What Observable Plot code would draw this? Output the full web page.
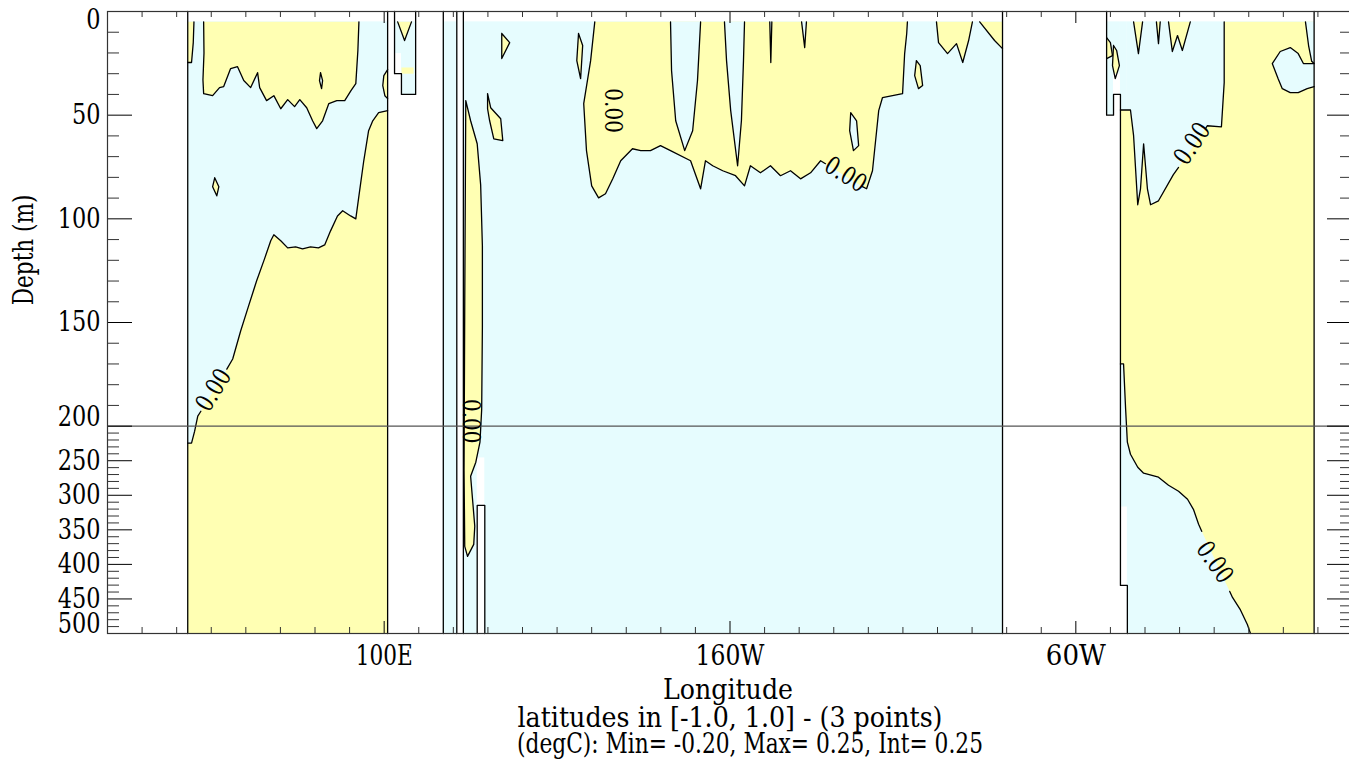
<!DOCTYPE html>
<html><head><meta charset="utf-8">
<script src="https://cdn.jsdelivr.net/npm/d3@7"></script>
<script src="https://cdn.jsdelivr.net/npm/@observablehq/plot@0.6"></script>
<style>
body{margin:0;overflow:hidden;background:#fff}
#wrap{position:relative;width:1349px;height:762px;overflow:hidden}
#wrap svg{max-width:none!important}
#wrap svg text{font-family:"DejaVu Serif",serif}
</style></head><body><div id="wrap"></div>
<script>
// ---------- axis data ----------
const xMajorLon = [100, 200, 300];
const xMajorLabels = ["100E", "160W", "60W"];
const xLabelWidths = [57, 69, 60];
const xMinorLon = d3.range(30, 380, 10).filter(d => !xMajorLon.includes(d));
const yMajorDepth = [0, 50, 100, 150, 200, 250, 300, 350, 400, 450, 500];
const yMinorDepth = d3.range(10, 500, 10).filter(d => !yMajorDepth.includes(d));
const yPlainLabels = [50, 100, 150, 250, 300, 350, 400, 450];
const yTopLabels = [0];
const yRaisedLabels = [200, 500];
const depthBreak = 200;      // depth where the vertical scale changes
const lowerCompression = 3;  // lower panel is 3x compressed

// ---------- ocean columns [west lon, east lon, bottom depth] ----------
const topDepth = 5;
const oceanCols = [
  [43.2, 101.0, 500], [103.0, 105.0, 30], [105.0, 109.1, 40], [117.1, 121.0, 500],
  [122.9, 278.8, 500], [308.9, 310.9, 50], [310.9, 312.9, 40], [312.9, 314.9, 430.4], [314.9, 368.9, 500]
];
// missing cells [west, east, top, bottom]
const blanks = [
  [103.0, 105.0, 20.3, 30], [310.9, 312.9, 30.2, 40], [312.9, 314.9, 317, 430.4],
  [126.9, 129.1, 246, 314.5], [126.9, 129.1, 314.5, 500]
];
// coast / bottom outlines
const walls = [
  [[43.2, 0], [43.2, 500]],
  [[101.0, 0], [101.0, 500]],
  [[103.0, 0], [103.0, 30], [105.0, 30], [105.0, 40], [109.1, 40], [109.1, 0]],
  [[117.1, 0], [117.1, 500]],
  [[121.0, 0], [121.0, 500]],
  [[122.9, 0], [122.9, 500]],
  [[126.9, 500], [126.9, 314.5], [129.1, 314.5], [129.1, 500]],
  [[278.8, 0], [278.8, 500]],
  [[308.9, 0], [308.9, 50], [310.9, 50], [310.9, 40], [312.9, 40], [312.9, 430.4], [314.9, 430.4], [314.9, 500]],
  [[368.9, 0], [368.9, 500]]
];

// ---------- zero contours [lon, depth] ----------
// Indian Ocean
const ioTopLine = [[47.8,5],[47.9,20],[47.6,33],[47.8,39.6],[50.4,40.6],[52.4,36.7],[53.6,36.2],[55.6,27.5],[57.6,26.6],[59.4,33.3],[61.4,36.7],[63.4,29.5],[64.0,36.7],[66.0,43.0],[68.1,40.6],[70.1,46.9],[72.1,42.5],[74.1,45.9],[75.6,42.5],[77.6,46.4],[79.3,52.7],[80.5,56.5],[82.2,52.7],[84.0,44.4],[86.3,43.0],[88.6,43.0],[90.4,38.2],[91.8,34.8],[92.4,18.8],[92.7,5]];
const ioSliver = [[45.0,5],[44.8,15],[44.3,24.6],[43.2,24.6]];
const ioSliverClose = [[43.2,5]];
const ioLowA = [[43.2,224.6],[44.3,224.6],[45.2,207.2],[46.1,195.2],[47.0,192.8]];
const ioLowB = [[54.5,172.5],[56.2,167.6],[58.5,154.1],[60.8,142.0],[63.1,130.0],[65.4,119.3],[67.2,110.6],[68.1,107.7],[70.1,110.6],[72.1,114.0],[74.4,113.5],[76.4,114.5],[78.7,113.5],[81.0,114.0],[82.8,112.6],[84.5,105.8],[86.5,98.6],[88.0,96.1],[90.3,98.6],[91.8,100.0],[92.7,88.9],[94.1,72.0],[95.5,57.5],[96.7,52.7],[98.4,48.8],[101.0,47.8]];
const ioLowClose = [[101.0,500],[43.2,500]];
const ioDiamond = [[51.0,80.2],[52.2,84.5],[51.6,88.9],[50.4,84.5],[51.0,80.2]];
const ioOval = [[81.6,29.5],[82.2,33.3],[81.9,37.2],[81.3,33.3],[81.6,29.5]];
const ioBulge = [[101,28],[99.9,30.9],[99.6,35.7],[100.2,40.6],[101,42]];
const boxV = [[103.9,5],[105.9,14.0],[107.9,5]];
const boxStripe = [[105,27],[108.5,27],[108.5,30],[105,30]];
// Pacific
const pacSliver = [[123.6,43],[125.0,52.7],[126.9,63.8],[127.9,83.6],[128.4,113],[128.4,152.2],[128.2,191.8],[127.7,223.2],[126.5,252.2],[125.0,272.5],[125.6,308.7],[126.2,344.9],[125.9,371],[124.1,388.4],[123.3,373.9],[123.1,265],[123.3,140],[123.6,43]];
const pacTopA = [[160.9,5],[159.7,23.7],[157.7,44.4],[158.5,67.1],[160.0,84.1],[162.0,89.9],[164.0,87.9],[166.1,80.7],[168.4,72.0],[171.8,66.2],[174.2,67.1],[177.0,67.1],[179.9,64.7],[182.8,67.1],[188.6,72.0],[191.5,85.5],[192.9,72.0],[195.0,74.4],[197.9,76.8],[201.6,79.2],[204.2,84.1],[205.9,74.4],[208.8,77.8],[211.7,74.4],[214.6,79.2],[217.5,76.8],[220.4,80.7],[223.3,77.8],[226.2,72.0],[227.6,73.4]];
const pacTopB = [[238.3,84.5],[239.5,85.5],[241.2,76.8],[242.4,57.5],[243.0,47.8],[244.1,41.5],[249.9,39.6],[250.5,20.3],[251.1,10.6],[251.3,5]];
const pacLoop = [[234.9,48.8],[236.6,52.7],[237.2,64.7],[235.7,67.1],[234.6,57.5],[234.9,48.8]];
const pacC1 = [[182.8,5],[183.1,28.5],[184.3,52.7],[186.9,67.1],[189.2,57.5],[190.6,33.3],[191.5,5]];
const pacC2 = [[198.4,5],[199.0,23.7],[200.2,47.8],[202.2,74.4],[203.3,52.7],[203.9,23.7],[204.2,5]];
const pacS1 = [[211.5,5],[211.8,24.6],[212.1,5]];
const pacS2 = [[220.7,5],[221.6,17.4],[222.1,5]];
const pacYB1 = [[253.9,23.7],[255.0,26.1],[255.7,35.7],[254.5,37.2],[253.4,30.9],[253.9,23.7]];
const pacYTR1 = [[259.7,5],[260.3,15.0],[262.9,20.3],[265.5,15.5],[267.3,24.6],[269.0,14.0],[270.1,5]];
const pacYTR2 = [[272.2,5],[276.5,14.0],[278.8,17.9]];
const pacYTR2Close = [[278.8,5]];
const pacTri = [[134.0,10.6],[136.3,15.0],[134.0,22.7],[134.0,10.6]];
const pacBlob = [[129.9,39.6],[130.8,46.4],[133.7,51.7],[134.3,62.3],[131.7,61.4],[130.5,52.7],[129.9,46.9],[129.9,39.6]];
const pacSliv2 = [[156.2,10.6],[157.4,16.4],[156.8,32.4],[155.7,23.7],[156.2,10.6]];
// Atlantic
const atlYellowA = [[312.9,47.5],[315.8,47.5],[316.7,59.9],[317.9,93.2],[318.7,85.5],[319.6,63.8],[320.7,85.5],[321.6,93.2],[323.9,91.3],[328.2,78.7],[329.7,75.2]];
const atlYellowB = [[337.5,56.5],[338.0,55.1],[342.1,55.6],[342.9,34.3],[342.9,5]];
const atlYellowClose = [[368.9,5],[368.9,500],[314.9,500],[314.9,430.4],[312.9,430.4]];
const atlWedgeA = [[312.9,170],[313.8,170],[314.4,191.8],[314.9,223.2],[315.8,240.6],[317.9,259.4],[319.6,268.1],[323.9,273.9],[326.8,285.5],[329.7,294.2],[332.3,305.8],[334.0,320.3],[335.5,342],[336.4,352.2]];
const atlWedgeB = [[344.5,439.1],[345.3,447.8],[347.6,465.9],[349.6,486.9],[350.5,500]];
const atlWedgeClose = [[314.9,500],[314.9,430.4],[312.9,430.4]];
const atlV1 = [[316.7,5],[318.1,20.3],[319.3,5]];
const atlV2 = [[323.3,5],[323.9,15.5],[324.4,5]];
const atlW = [[326.8,5],[327.9,19.3],[329.4,11.6],[330.8,18.8],[333.1,5]];
const atlBlob1 = [[308.9,12.6],[310.0,15.0],[310.6,21.3],[308.9,22.7]];
const atlBlob2 = [[310.9,16.4],[311.8,18.8],[312.6,26.1],[311.4,32.4],[310.6,26.1],[310.9,16.4]];
const atlTR = [[366.4,5],[367.3,16.4],[368.2,24],[368.9,25.1],[365.8,25.1],[364.3,20.3],[362.0,17.4],[359.1,19.3],[356.8,25.1],[358.5,32.4],[359.7,37.2],[362.0,39.1],[364.3,39.1],[366.9,37.2],[368.9,36.2]];
const atlTRClose = [[368.9,5]];

// contour labels
const labelLon = [50.7, 166.1, 233.4, 125.0, 333.7, 340.1];
const labelDepth = [182.6, 47.8, 78.7, 197.6, 63.8, 397.1];
const labelAngle = [-58, 90, 32, 90, -56, 55];
const labelText = ["0.00", "0.00", "0.00", "0.00", "0.00", "0.00"];

const captionLines = ["Longitude", "latitudes in [-1.0, 1.0] - (3 points)", "(degC): Min= -0.20, Max= 0.25, Int= 0.25"];
const captionWidths = [130, 425, 466];

// ---------- build ----------
const YELLOW = "#ffffb3", CYAN = "#e6fcfe", INK = "#000";
const rows = shapes => shapes.flatMap((pts, k) => pts.map(([lon, dep]) => ({lon, dep, k})));

const yellowFills = [
  ioTopLine, ioSliver.concat(ioSliverClose), ioLowA.concat(ioLowB, ioLowClose), ioDiamond, ioBulge, boxV, boxStripe,
  pacSliver, pacTopA.concat(pacTopB), pacYB1, pacYTR1, pacYTR2.concat(pacYTR2Close), pacTri, pacBlob, pacSliv2,
  atlYellowA.concat(atlYellowB, atlYellowClose), atlV1, atlV2, atlW, atlBlob1, atlBlob2
];
const cyanFills = [ioOval, pacC1, pacC2, pacS1, pacS2, pacLoop, atlWedgeA.concat(atlWedgeB, atlWedgeClose), atlTR.concat(atlTRClose)];
const contourLines = [ioTopLine, ioSliver, ioLowA, ioLowB, ioDiamond, ioOval, ioBulge, boxV, pacSliver, pacTopA, pacTopB, pacLoop,
  pacC1, pacC2, pacS1, pacS2, pacYB1, pacYTR1, pacYTR2, pacTri, pacBlob, pacSliv2,
  atlYellowA, atlYellowB, atlV1, atlV2, atlW, atlBlob1, atlBlob2, atlWedgeA, atlWedgeB, atlTR];

const X0 = 107, X1 = 1352, Y0 = 11, Y1 = 633, W = 1362, H = 762;
const fw = X1 - X0, fh = Y1 - Y0;
const squeeze = d => d <= depthBreak ? d : depthBreak + (d - depthBreak) / lowerCompression;
const FONT = "DejaVu Serif";
const T = {fill: INK, fontFamily: FONT};

const chart = Plot.plot({
  width: W, height: H,
  marginLeft: X0, marginRight: W - X1, marginTop: Y0, marginBottom: H - Y1,
  x: {domain: [20, 380], axis: null},
  y: {transform: squeeze, reverse: true, axis: null},
  style: {fontFamily: FONT, fontSize: "28px", background: "white", overflow: "visible", maxWidth: "none"},
  marks: [
    Plot.rect(oceanCols, {x1: d => d[0], x2: d => d[1], y1: () => topDepth, y2: d => d[2], fill: CYAN}),
    Plot.line(rows(yellowFills), {x: "lon", y: "dep", z: "k", fill: YELLOW, stroke: "none"}),
    Plot.line(rows(cyanFills), {x: "lon", y: "dep", z: "k", fill: CYAN, stroke: "none"}),
    Plot.rect(blanks, {x1: d => d[0], x2: d => d[1], y1: d => d[2], y2: d => d[3], fill: "white"}),
    Plot.line(rows(contourLines), {x: "lon", y: "dep", z: "k", stroke: INK, strokeWidth: 1.3}),
    Plot.line(rows(walls), {x: "lon", y: "dep", z: "k", stroke: INK, strokeWidth: 1.3}),
    Plot.ruleY([depthBreak], {stroke: "#555", strokeWidth: 1.2}),
    Plot.text(labelText, {x: (d, i) => labelLon[i], y: (d, i) => labelDepth[i], rotate: (d, i) => labelAngle[i], text: d => d, fontSize: 25, ...T}),
    // ticks (drawn inward)
    Plot.ruleX(xMinorLon, {x: d => d, insetTop: fh - 6, stroke: "#333"}),
    Plot.ruleX(xMajorLon, {x: d => d, insetTop: fh - 12, stroke: "#000"}),
    Plot.ruleX(xMinorLon, {x: d => d, insetBottom: fh - 6, stroke: "#333"}),
    Plot.ruleX(xMajorLon, {x: d => d, insetBottom: fh - 12, stroke: "#000"}),
    Plot.ruleY(yMinorDepth, {y: d => d, insetRight: fw - 12, stroke: "#333"}),
    Plot.ruleY(yMajorDepth, {y: d => d, insetRight: fw - 25, stroke: "#000"}),
    Plot.ruleY(yMinorDepth, {y: d => d, insetLeft: fw - 12, stroke: "#333"}),
    Plot.ruleY(yMajorDepth, {y: d => d, insetLeft: fw - 25, stroke: "#000"}),
    Plot.frame({stroke: "#333", strokeWidth: 1.2}),
    // tick labels
    Plot.text(xMajorLon, {x: d => d, frameAnchor: "bottom", dy: 31, text: (d, i) => xMajorLabels[i], fontSize: 28, ...T}),
    Plot.text(yPlainLabels, {y: d => d, frameAnchor: "left", dx: -7, textAnchor: "end", text: d => String(d), fontSize: 28, ...T}),
    Plot.text(yTopLabels, {y: d => d, frameAnchor: "left", dx: -7, dy: 9, textAnchor: "end", text: d => String(d), fontSize: 28, ...T}),
    Plot.text(yRaisedLabels, {y: d => d, frameAnchor: "left", dx: -7, dy: -9, textAnchor: "end", text: d => String(d), fontSize: 28, ...T}),
    Plot.text(["Depth (m)"], {y: () => 115, frameAnchor: "left", dx: -83, rotate: -90, textAnchor: "middle", text: d => d, fontSize: 27, ...T}),
    Plot.text([captionLines[0]], {frameAnchor: "bottom", dx: -2, dy: 65, text: d => d, fontSize: 28, ...T}),
    Plot.text([captionLines[1]], {frameAnchor: "bottom", dx: 0, dy: 93, text: d => d, fontSize: 28, ...T}),
    Plot.text([captionLines[2]], {frameAnchor: "bottom", dx: 20, dy: 119, text: d => d, fontSize: 28, ...T})
  ]
});
document.getElementById("wrap").appendChild(chart);

// the reference typeface is narrow: compress DejaVu Serif to the reference widths
const narrow = 0.8;
chart.querySelectorAll("text").forEach(t => {
  const s = t.textContent;
  const ci = captionLines.indexOf(s);
  const xi = xMajorLabels.indexOf(s);
  let target;
  if (ci >= 0) target = captionWidths[ci];
  else if (xi >= 0) target = xLabelWidths[xi];
  else target = t.getComputedTextLength() * narrow;
  if (target > 0) {
    t.setAttribute("textLength", target);
    t.setAttribute("lengthAdjust", "spacingAndGlyphs");
  }
});
</script></body></html>
